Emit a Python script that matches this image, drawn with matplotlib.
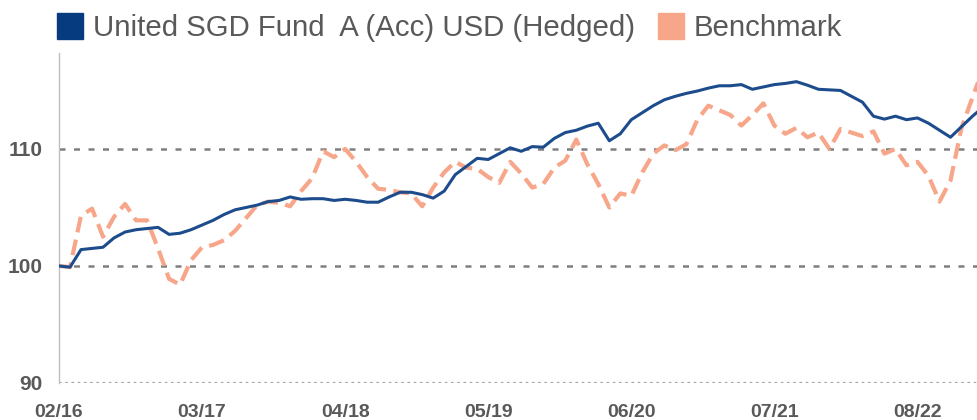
"""Fund vs benchmark indexed performance"""

import matplotlib
matplotlib.use('Agg')
import matplotlib.pyplot as plt
from matplotlib import font_manager
from matplotlib.lines import Line2D
import numpy as np

FUND_NAME = 'United SGD Fund  A (Acc) USD (Hedged)'
BENCH_NAME = 'Benchmark'

# monthly indexed values, 02/2016 = 100
fund = [100.0, 99.9, 101.4, 101.5, 101.6, 102.4, 102.9, 103.1, 103.2, 103.3, 102.7, 102.8, 103.1, 103.5, 103.9,
        104.4, 104.8, 105.0, 105.2, 105.5, 105.6, 105.9, 105.7, 105.75, 105.75, 105.6, 105.7, 105.6, 105.45, 105.45,
        105.9, 106.3, 106.3, 106.1, 105.8, 106.4, 107.8, 108.5, 109.2, 109.1, 109.6, 110.1, 109.8, 110.2,
        110.15, 110.9, 111.4, 111.6, 111.95, 112.2, 110.7, 111.3, 112.5, 113.1, 113.7, 114.2, 114.5, 114.75,
        114.95, 115.2, 115.4, 115.4, 115.5, 115.1, 115.3, 115.5, 115.6, 115.75, 115.45, 115.1, 115.05,
        115.0, 114.5, 114.0, 112.8, 112.55, 112.8, 112.5, 112.65, 112.2, 111.6, 111.0, 111.9, 112.8, 113.6]
bench = [100.0, 99.9, 104.3, 104.9, 102.5, 104.2, 105.3, 103.9, 103.9, 101.5, 98.9, 98.4, 100.5, 101.6, 101.8,
         102.2, 103.0, 104.1, 105.2, 105.5, 105.4, 105.1, 106.4, 107.5, 109.8, 109.3, 110.0, 108.9, 107.6,
         106.6, 106.5, 106.3, 106.2, 105.1, 106.7, 108.0, 108.9, 108.4, 108.3, 107.6, 107.1, 108.9, 107.9, 106.7,
         107.0, 108.4, 109.0, 110.8, 108.7, 107.0, 105.0, 106.2, 106.0, 108.0, 109.6, 110.3, 109.9, 110.4,
         112.5, 113.7, 113.3, 112.9, 112.0, 112.9, 113.9, 112.0, 111.3, 111.8, 111.0, 111.4, 110.0,
         111.7, 111.4, 111.1, 111.5, 109.6, 110.0, 108.6, 108.9, 107.7, 105.5, 107.3, 111.8, 114.4, 117.0]

tick_labels = ['02/16', '03/17', '04/18', '05/19', '06/20', '07/21', '08/22']
y_ticks = [90, 100, 110]

FUND_COLOR = '#1d4c8c'
FUND_SQUARE = '#073b80'
BENCH_COLOR = '#f7a68a'
TEXT_COLOR = '#595959'

names = {f.name for f in font_manager.fontManager.ttflist}
FONT = 'Liberation Sans' if 'Liberation Sans' in names else 'DejaVu Sans'
plt.rcParams['font.family'] = FONT


def make_plot():
    fig = plt.figure(figsize=(9.78, 4.2), dpi=100)
    ax = fig.add_axes([59 / 978, 1 - 383 / 420, 1 - 59 / 978, (383 - 53) / 420])

    x = np.arange(len(fund))
    ax.plot(x, bench, color=BENCH_COLOR, lw=3.0, dashes=(3.8, 1.8), solid_capstyle='butt', zorder=3)
    ax.plot(x, fund, color=FUND_COLOR, lw=2.2, zorder=4)

    ax.set_xlim(0, 83.5)
    ax.set_ylim(90, 118.2)
    for s in ('top', 'right', 'bottom'):
        ax.spines[s].set_visible(False)
    ax.spines['left'].set_color('#bfbfbf')
    ax.spines['left'].set_linewidth(1.0)

    # dotted guide lines
    for v in y_ticks[1:]:
        ax.axhline(v, color='#7f7f7f', lw=1.8, dashes=(2.4, 3.4), zorder=1)
    ax.axhline(y_ticks[0], color='#a6a6a6', lw=1.6, dashes=(1.2, 1.6), zorder=1)

    ax.set_yticks(y_ticks)
    ax.set_yticklabels([str(v) for v in y_ticks], fontsize=15, fontweight='bold', color=TEXT_COLOR)
    ax.set_xticks(np.arange(len(tick_labels)) * 13)
    ax.set_xticklabels(tick_labels, fontsize=14, fontweight='bold', color=TEXT_COLOR)
    ax.tick_params(axis='y', length=0, pad=12)
    ax.tick_params(axis='x', length=0, pad=15)

    handles = [Line2D([], [], ls='none', marker='s', markersize=18.5, color=FUND_SQUARE),
               Line2D([], [], ls='none', marker='s', markersize=18.5, color=BENCH_COLOR)]
    fig.legend(handles, [FUND_NAME, BENCH_NAME], loc='center left', bbox_to_anchor=(55 / 978, 1 - 28 / 420),
               ncol=2, frameon=False, fontsize=21.2, handlelength=1.0, handletextpad=0.28,
               columnspacing=0.72, borderpad=0, borderaxespad=0, labelcolor=TEXT_COLOR)

    fig.savefig('out.png', dpi=100)


make_plot()
